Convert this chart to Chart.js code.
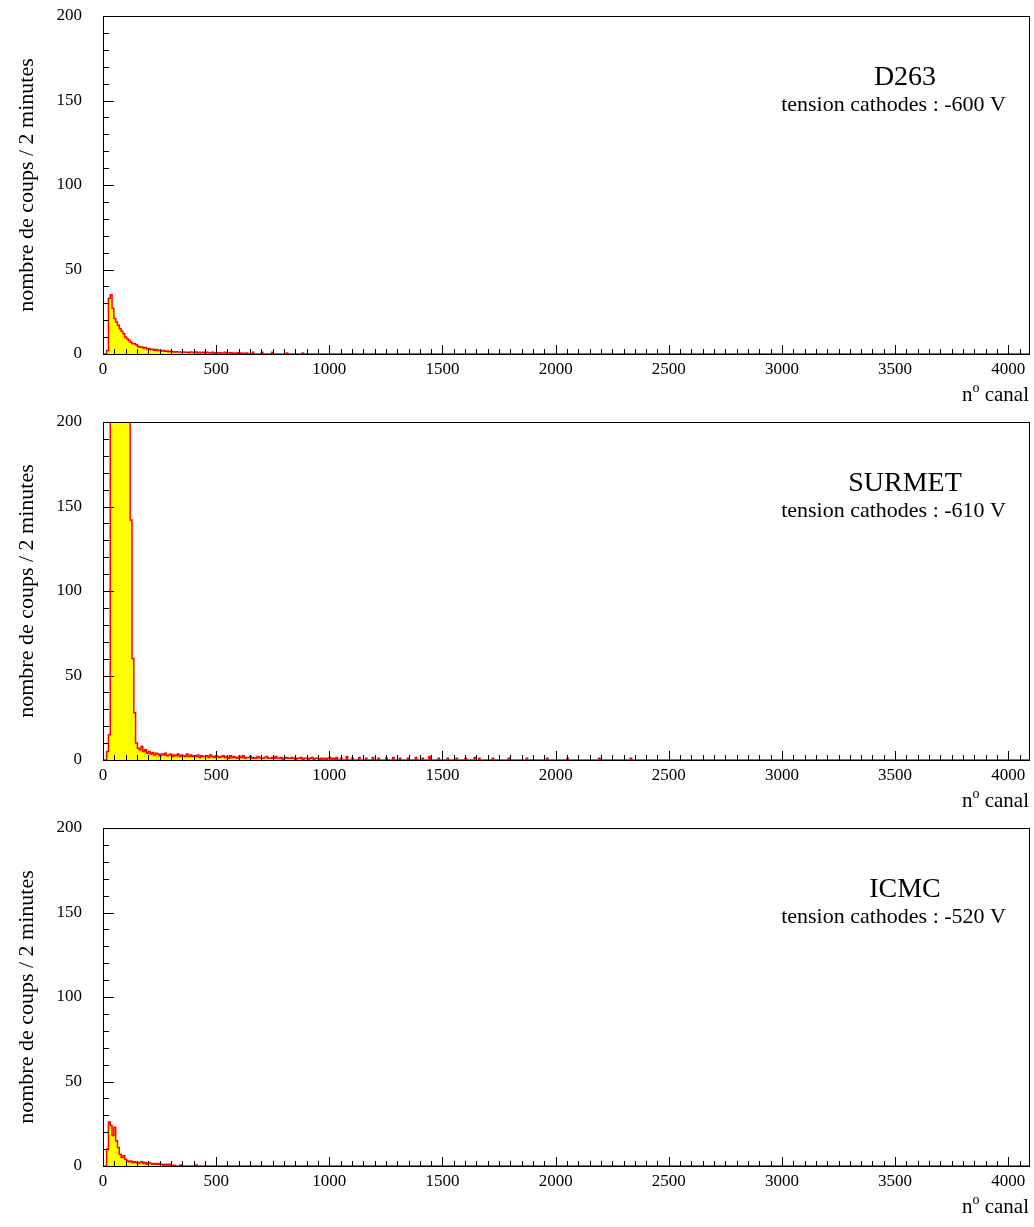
<!DOCTYPE html>
<html><head><meta charset="utf-8">
<script src="https://cdn.jsdelivr.net/npm/chart.js@4/dist/chart.umd.min.js"></script>
<style>
html,body{margin:0;padding:0;background:#fff;}
#wrap{position:relative;width:1034px;height:1227px;overflow:hidden;}
canvas{position:absolute;left:0;}
</style></head><body><div id="wrap">
<canvas id="c0" width="1034" height="406" style="top:0px"></canvas>
<canvas id="c1" width="1034" height="406" style="top:406px"></canvas>
<canvas id="c2" width="1034" height="406" style="top:812px"></canvas>
</div>
<script>
// ---- data (counts per channel, 8-channel bins starting at channel 0) ----
const channelRange = [0, 4096];
const headBinWidth = 8;
const spikeWidth = 6;
const xTickLabels = [0, 500, 1000, 1500, 2000, 2500, 3000, 3500, 4000];
const yTickLabels = [0, 50, 100, 150, 200];
const panelNames = ['D263', 'SURMET', 'ICMC'];
const panelVoltages = ['tension cathodes : -600 V', 'tension cathodes : -610 V', 'tension cathodes : -520 V'];

const d263Head = [
  0, 0, 2, 33, 35, 27, 21, 19,
  17, 15, 13.5, 12, 10, 9, 8, 7,
  6, 6, 5.5, 4.5, 4, 4.2, 3.6, 3.8,
  3, 3.2, 2.6, 2.8, 2.2, 2.6, 2, 2.2,
  1.8, 2, 1.6, 1.8, 1.4, 1.6, 1.4, 1.2,
  1.4, 1.2, 1.2, 1, 1.2, 1, 1, 0.8,
  1.2, 1, 0.8, 1.2, 0.6, 1, 0.8, 1,
  0.6, 1, 0.8, 0.6, 1, 0.4, 0.8, 0.6,
  0.8, 0.4, 0.6, 1, 0.4, 0.6, 0.8, 0.4,
  0.6, 0.4, 0.8, 0.2, 0.6, 0.4, 0.2, 0.6
];
const d263SpikeCh = [660, 700, 745, 810, 880];
const d263SpikeCounts = [1, 1, 1, 0.6, 0.6];

const surmetHead = [
  0, 0, 5, 15, 300, 360, 420, 470,
  510, 530, 520, 490, 450, 400, 340, 142,
  60, 28, 10, 7, 6, 8, 5, 6,
  4, 5, 3.5, 4.5, 3, 4, 3.5, 2.5,
  3.5, 3, 4, 2.5, 3, 3.5, 2, 3,
  2.5, 3.5, 2, 3, 2.5, 2, 3.5, 2,
  3, 2, 2.5, 2, 3, 1.5, 2.5, 2,
  2, 2.5, 1.5, 3, 2, 1.5, 2.5, 2,
  1.5, 2, 2.5, 1.5, 2, 1, 2.5, 1.5,
  2, 1.5, 1, 2, 1.5, 2.5, 1, 1.5,
  1.5, 2, 1, 1.5, 1, 2, 1.5, 1,
  1, 1.5, 2, 1, 1, 1.5, 1, 2,
  1, 1, 1.5, 0.5, 1, 1.5, 1, 1,
  1.5, 1, 0.5, 1, 1, 1.5, 0.5, 1,
  1, 0.5, 1, 1.5, 0.5, 1, 1, 0.5,
  1, 0.5, 1, 0.5, 1, 1.5, 0.5, 1
];
const surmetSpikeCh = [1030, 1050, 1075, 1100, 1130, 1160, 1190, 1215, 1250, 1280, 1310, 1345, 1380, 1410, 1440, 1480, 1520, 1560, 1600, 1640, 1660, 1720, 1790, 1870, 1960, 2050, 2190, 2330];
const surmetSpikeCounts = [1.5, 1, 2, 1, 1.5, 1, 1.5, 1, 1, 1.5, 1, 1, 1.5, 1, 2, 1, 1, 1, 1, 1.5, 1, 1, 1, 1, 1, 1, 1, 1];

const icmcHead = [
  0, 0, 10, 26, 24, 18, 23, 15,
  11, 7, 5, 6, 4, 3, 2.5, 3,
  2, 2.5, 2, 1.5, 2, 2.5, 1.5, 2,
  1, 2, 1.5, 1, 1.5, 1, 1.5, 1,
  1, 0.5, 1, 0.5, 1, 0.5, 0, 0.5
];
const icmcSpikeCh = [340, 410];
const icmcSpikeCounts = [0.6, 0.6];

const panelHeads = [d263Head, surmetHead, icmcHead];
const panelSpikeCh = [d263SpikeCh, surmetSpikeCh, icmcSpikeCh];
const panelSpikeCounts = [d263SpikeCounts, surmetSpikeCounts, icmcSpikeCounts];

function buildSteps(head, spikeCh, spikeCounts) {
  const pts = head.map((v, i) => ({x: i * headBinWidth, y: v}));
  pts.push({x: head.length * headBinWidth, y: 0});
  spikeCh.forEach((c, i) => {
    pts.push({x: c, y: spikeCounts[i]});
    pts.push({x: c + spikeWidth, y: 0});
  });
  pts.push({x: channelRange[1], y: 0});
  return pts;
}

const SERIF = '"Liberation Serif", "Times New Roman", serif';

function makePlugin(idx) {
  return {
    id: 'frame' + idx,
    beforeDatasetsDraw(chart) {
      const {ctx, chartArea: a} = chart;
      ctx.save();
      ctx.strokeStyle = '#000';
      ctx.lineWidth = 1;
      ctx.strokeRect(Math.round(a.left) + 0.5, Math.round(a.top) + 0.5, Math.round(a.right - a.left) - 1, Math.round(a.bottom - a.top));
      ctx.restore();
    },
    afterDatasetsDraw(chart) {
      const {ctx, chartArea: a, scales} = chart;
      ctx.save();
      ctx.strokeStyle = '#000';
      ctx.lineWidth = 1;
      ctx.beginPath();
      for (let v = 0; v <= 4050; v += 50) {
        const px = Math.round(scales.x.getPixelForValue(v)) + 0.5;
        const len = (v % 500 === 0) ? 9 : 5;
        ctx.moveTo(px, a.bottom);
        ctx.lineTo(px, a.bottom - len);
      }
      for (let v = 0; v <= 200; v += 10) {
        const py = Math.round(scales.y.getPixelForValue(v)) + 0.5;
        const len = (v % 50 === 0) ? 11 : 6;
        ctx.moveTo(a.left, py);
        ctx.lineTo(a.left + len, py);
      }
      ctx.stroke();
      ctx.strokeRect(Math.round(a.left) + 0.5, Math.round(a.top) + 0.5, Math.round(a.right - a.left) - 1, Math.round(a.bottom - a.top));

      ctx.fillStyle = '#000';
      ctx.textBaseline = 'alphabetic';
      ctx.font = '28px ' + SERIF;
      ctx.textAlign = 'center';
      ctx.fillText(panelNames[idx], 905, 85);
      ctx.font = '22px ' + SERIF;
      ctx.textAlign = 'right';
      ctx.fillText(panelVoltages[idx], 1006, 111);

      const base = 401;
      ctx.font = '21px ' + SERIF;
      ctx.textAlign = 'left';
      const wCanal = ctx.measureText(' canal').width;
      const wN = ctx.measureText('n').width;
      ctx.font = '14px ' + SERIF;
      const wO = ctx.measureText('o').width;
      let x = 1029 - wCanal - wO - wN;
      ctx.font = '21px ' + SERIF;
      ctx.fillText('n', x, base);
      ctx.font = '14px ' + SERIF;
      ctx.fillText('o', x + wN, base - 9);
      ctx.font = '21px ' + SERIF;
      ctx.fillText(' canal', x + wN + wO, base);
      ctx.restore();
    }
  };
}

for (let i = 0; i < 3; i++) {
  new Chart(document.getElementById('c' + i), {
    type: 'line',
    data: {
      datasets: [{
        data: buildSteps(panelHeads[i], panelSpikeCh[i], panelSpikeCounts[i]),
        stepped: true,
        fill: 'origin',
        backgroundColor: '#ffff00',
        borderColor: '#ff0000',
        borderWidth: 1.5,
        pointRadius: 0,
        tension: 0
      }]
    },
    options: {
      responsive: false,
      animation: false,
      events: [],
      layout: {padding: {top: 16, right: 4, left: 0, bottom: 0}},
      plugins: {legend: {display: false}, tooltip: {enabled: false}},
      scales: {
        x: {
          type: 'linear',
          min: channelRange[0], max: channelRange[1],
          afterFit(s) { s.height = 52; s.paddingLeft = 0; s.paddingRight = 0; },
          afterBuildTicks(s) { s.ticks = xTickLabels.map(v => ({value: v})); },
          grid: {display: false, drawTicks: false},
          border: {display: false},
          ticks: {autoSkip: false, maxRotation: 0, color: '#000', padding: 5,
                  callback: v => String(v),
                  font: {family: SERIF, size: 17}}
        },
        y: {
          type: 'linear',
          min: 0, max: 200,
          afterFit(s) { s.width = 103; s.paddingTop = 0; s.paddingBottom = 0; },
          afterBuildTicks(s) { s.ticks = yTickLabels.map(v => ({value: v})); },
          grid: {display: false, drawTicks: false},
          border: {display: false},
          ticks: {color: '#000', padding: 21, callback: v => String(v),
                  font: {family: SERIF, size: 17}},
          title: {display: true, text: 'nombre de coups / 2 minutes', color: '#000',
                  padding: {top: 14, bottom: 0}, font: {family: SERIF, size: 22}}
        }
      }
    },
    plugins: [makePlugin(i)]
  });
}
</script>
</body></html>
